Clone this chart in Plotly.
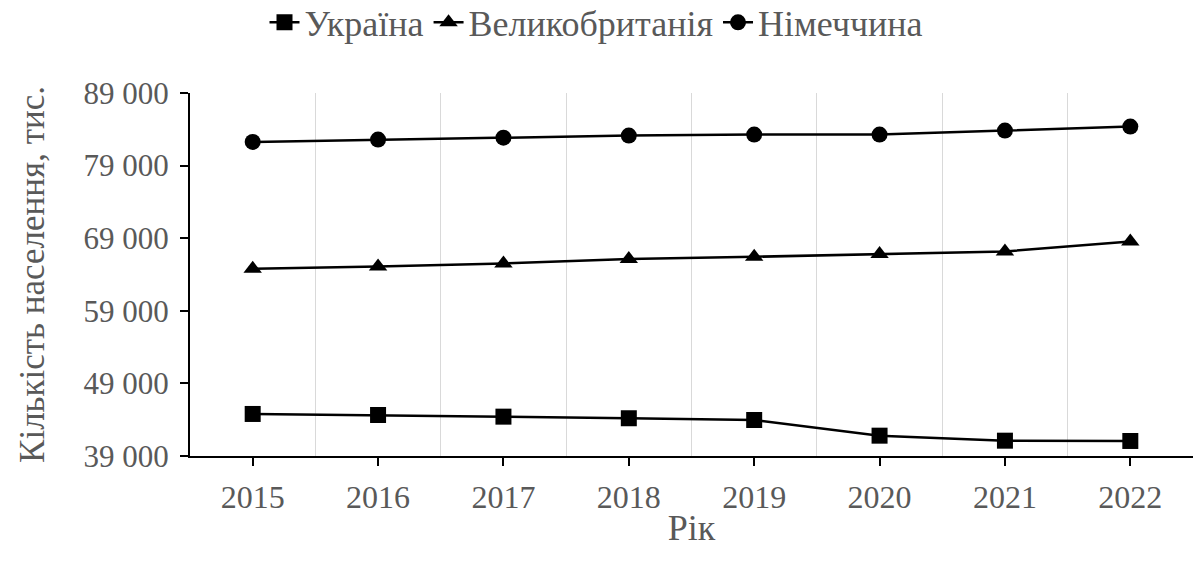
import plotly.graph_objects as go

years = ["2015", "2016", "2017", "2018", "2019", "2020", "2021", "2022"]
ukraine = [44790, 44650, 44420, 44200, 43960, 41800, 41110, 41070]
uk = [64790, 65100, 65520, 66130, 66440, 66810, 67170, 68550]
germany = [82260, 82580, 82850, 83130, 83270, 83270, 83820, 84370]

series = [
    ("Україна", ukraine, "square"),
    ("Великобританія", uk, "triangle-up"),
    ("Німеччина", germany, "circle"),
]

xpos = list(range(len(years)))
fig = go.Figure()
for name, vals, sym in series:
    fig.add_trace(go.Scatter(
        x=xpos, y=vals, name=name, mode="lines+markers",
        line=dict(color="black", width=2.5),
        marker=dict(symbol=sym, size=16, color="black"),
    ))

font = "'Times New Roman', 'Liberation Serif', 'DejaVu Serif', serif"
grey = "#595959"
fig.update_layout(
    width=1193, height=561,
    margin=dict(l=190, r=0, t=93, b=105, autoexpand=False),
    paper_bgcolor="white", plot_bgcolor="white",
    separators=". ",
    font=dict(family=font, color=grey, size=28),
    legend=dict(orientation="h", xref="container", x=0.5, xanchor="center",
                yref="container", y=0.96, yanchor="middle",
                font=dict(family=font, size=36, color=grey), itemwidth=30,
                tracegroupgap=0),
    showlegend=True,
)
fig.update_xaxes(
    range=[-0.5, 7.5], tickmode="array", tickvals=xpos, ticktext=years,
    showgrid=False, showline=True, linecolor="black", linewidth=2,
    ticks="outside", ticklen=8, tickcolor="black", tickwidth=2,
    ticklabelstandoff=4,
    tickfont=dict(family=font, size=32, color=grey),
    minor=dict(tick0=0.5, dtick=1, showgrid=True, gridcolor="#d9d9d9", gridwidth=1),
    title=dict(text="Рік", font=dict(family=font, size=36, color=grey), standoff=0),
    zeroline=False,
)
fig.update_yaxes(
    range=[39000, 89000], tick0=39000, dtick=10000, tickformat=",d",
    showgrid=False, showline=True, linecolor="black", linewidth=2,
    ticks="outside", ticklen=8, tickcolor="black", tickwidth=2,
    ticklabelstandoff=5,
    tickfont=dict(family=font, size=31, color=grey),
    title=dict(text="Кількість населення, тис.", font=dict(family=font, size=35, color=grey), standoff=28),
    zeroline=False,
)
fig.write_html("out.html", config={"displayModeBar": False},
               post_script="document.body.style.margin='0';")
